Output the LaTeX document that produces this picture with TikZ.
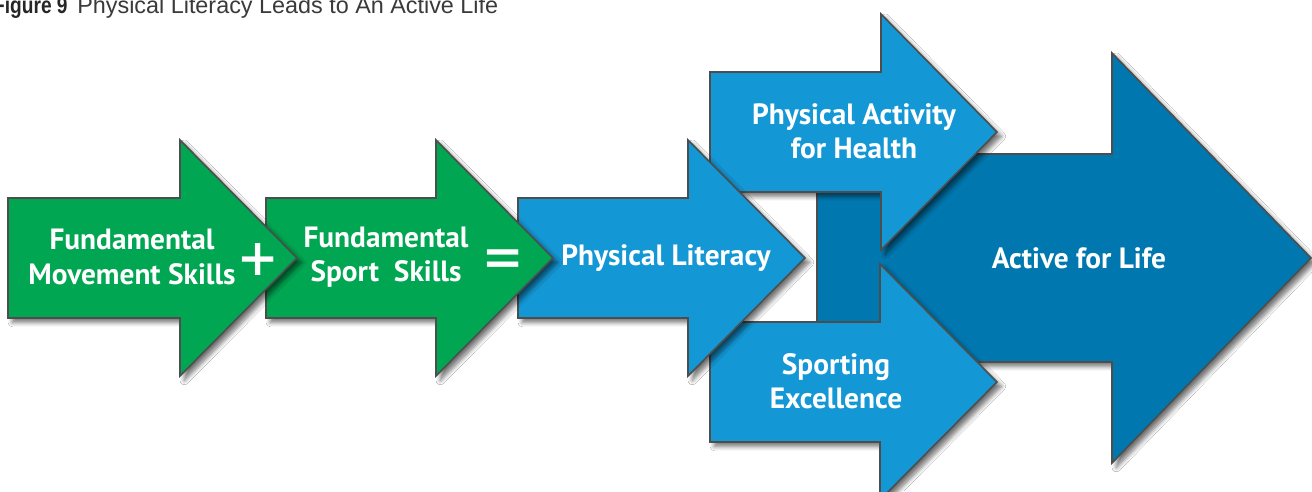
\documentclass[tikz,border=0pt]{standalone}
\usepackage{fontspec}
\setmainfont{PT Sans}
\newfontfamily\titlefont{Liberation Sans}
\usetikzlibrary{shadows.blur}
\definecolor{pgreen}{HTML}{00A651}
\definecolor{pblue}{HTML}{1497D5}
\definecolor{pdark}{HTML}{0077AE}
\definecolor{pedge}{HTML}{4D4D4D}
\definecolor{titlegray}{HTML}{3A3A3A}
\tikzset{
  arrowshape/.style={draw=pedge, line width=0.9pt, line join=miter,
    blur shadow={shadow xshift=2.5pt, shadow yshift=-2.5pt, shadow blur steps=6,
      shadow blur radius=2.5pt, shadow opacity=55}},
  lbl/.style={text=white, font=\bfseries\fontsize{16.7}{19.5}\selectfont, align=center, inner sep=0pt},
  sign/.style={text=white, font=\fontsize{42}{42}\selectfont, inner sep=0pt},
}
% #1 options, #2 fill, #3 x0, #4 head base x, #5 tip x, #6 centre y, #7 half body, #8 half head
\newcommand\bigarrow[8][]{%
  \path[arrowshape,fill=#2,#1] (#3,#6-#7) -- (#4,#6-#7) -- (#4,#6-#8) -- (#5,#6)
    -- (#4,#6+#8) -- (#4,#6+#7) -- (#3,#6+#7) -- cycle;}
\begin{document}
\begin{tikzpicture}[x=0.02cm,y=-0.02cm]
\fill[white] (0,0) rectangle (1312,491);
\useasboundingbox (0,0) rectangle (1312,491);
% title
\node[anchor=base west, inner sep=0pt, text=titlegray, font=\titlefont\fontsize{13.3}{13.3}\selectfont] (title) at (77,13) {Physical Literacy Leads to An Active Life};
\node[anchor=base east, inner sep=0pt, text=black!85, font=\titlefont\bfseries\fontsize{13.3}{13.3}\selectfont] (fig) at (68,13) {\scalebox{0.82}[1]{Figure 9}};
% arrows, back to front
\bigarrow{pdark}{817}{1112}{1311}{258}{104}{205}
\bigarrow{pblue}{710}{881}{997}{132}{60}{118}
\bigarrow{pblue}{710}{880}{997}{382}{60}{118}
\bigarrow{pblue}{518}{688}{805}{258}{60}{118}
\bigarrow{pgreen}{266}{436}{553}{258}{60}{118}
\bigarrow{pgreen}{8}{180}{297}{258}{60}{118}
% labels
\node[lbl] (fms) at (132,257) {Fundamental\\Movement Skills};
\node[lbl] (fss) at (386,257) {Fundamental\\Sport\ \ Skills};
\node[lbl] (pl) at (666,258) {Physical Literacy};
\node[lbl] (pah) at (854,131) {Physical Activity\\for Health};
\node[lbl] (se) at (836,381) {Sporting\\Excellence};
\node[lbl] (afl) at (1079,258) {Active for Life};
\node[sign, anchor=base] (plus) at (258,284) {+};
\node[sign, anchor=base] (eq) at (503,283) {=};
\end{tikzpicture}
\end{document}
